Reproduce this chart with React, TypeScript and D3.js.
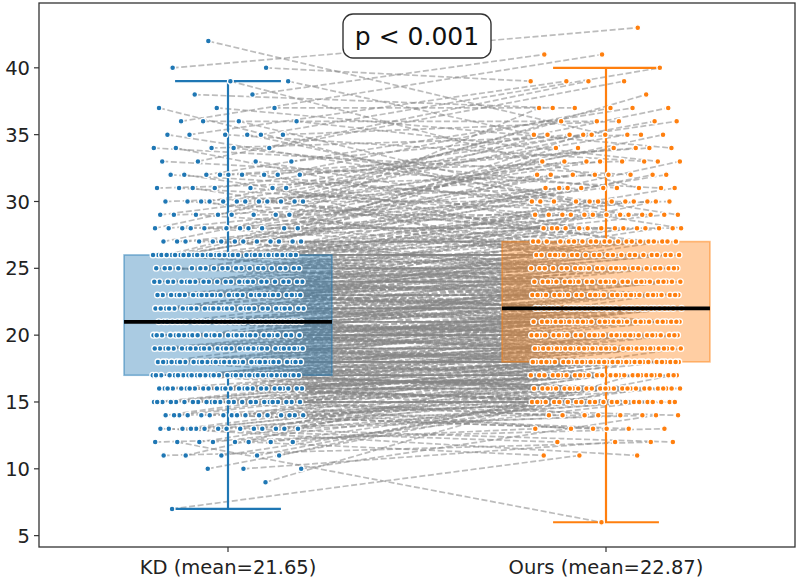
import React from 'react';
import * as d3 from 'd3';

// Score frequencies per method (integer scores)
const kdScores = [7, 9, 10, 11, 12, 13, 14, 15, 16, 17, 18, 19, 20, 21, 22, 23, 24, 25, 26, 27, 28, 29, 30, 31, 32, 33, 34, 35, 36, 37, 38, 39, 40, 42];
const kdCounts = [1, 1, 3, 5, 8, 14, 16, 24, 26, 32, 30, 30, 28, 30, 28, 28, 24, 20, 32, 13, 11, 8, 12, 7, 9, 4, 5, 6, 4, 3, 2, 2, 2, 1];

const oursScores = [6, 11, 12, 13, 14, 15, 16, 17, 18, 19, 20, 21, 22, 23, 24, 25, 26, 27, 28, 29, 30, 31, 32, 33, 34, 35, 36, 37, 38, 39, 40, 41, 43];
const oursCounts = [1, 3, 4, 6, 8, 22, 26, 27, 32, 32, 28, 30, 31, 28, 26, 24, 22, 20, 14, 13, 12, 9, 8, 8, 6, 9, 5, 6, 1, 4, 1, 2, 1];

// Box-plot summary per method
const methods = ['KD', 'Ours'];
const methodLabels = ['KD (mean=21.65)', 'Ours (mean=22.87)'];
const boxQ1 = [17, 18];
const boxMedian = [21, 22];
const boxQ3 = [26, 27];
const whiskerLow = [7, 6];
const whiskerHigh = [39, 40];
const colors = ['#1f77b4', '#ff7f0e'];

const yTicks = [5, 10, 15, 20, 25, 30, 35, 40];
const pLabel = 'p < 0.001';

const W = 797;
const H = 580;
const left = 39;
const right = 795;
const top = 3;
const bottom = 547;

const frac = (v: number) => v - Math.floor(v);

function expand(scores: number[], counts: number[]) {
  const out: number[] = [];
  scores.forEach((s, i) => {
    for (let k = 0; k < counts[i]; k++) out.push(s);
  });
  return out;
}

export default function App() {
  const x = d3.scaleLinear().domain([-0.5, 1.5]).range([left, right]);
  const y = d3.scaleLinear().domain([4.15, 44.85]).range([bottom, top]);

  const kd = expand(kdScores, kdCounts);
  const ours = expand(oursScores, oursCounts);
  const n = Math.min(kd.length, ours.length);

  // pair subjects by rank with local mixing so that connections cross
  const order = d3.range(n).sort((a, b) => {
    const ka = a + (frac(a * 0.7548776662 + 0.2) - 0.5) * 170;
    const kb = b + (frac(b * 0.7548776662 + 0.2) - 0.5) * 170;
    return ka - kb;
  });
  const pairs = order.map((kdIdx, j) => ({
    a: kd[kdIdx],
    b: ours[j],
    xa: (frac(kdIdx * 0.6180339887 + 0.13) - 0.5) * 0.4,
    xb: (frac(j * 0.6180339887 + 0.47) - 0.5) * 0.4,
  }));

  const boxW = 0.55;
  const capW = 0.28;

  return (
    <svg width={W} height={H} style={{ position: 'absolute', left: 0, top: 0, background: '#fff' }}
      fontFamily="DejaVu Sans, sans-serif">
      {/* paired connections */}
      <g stroke="#858585" strokeOpacity={0.55} strokeWidth={1.7} strokeDasharray="6,2.6" fill="none">
        {pairs.map((p, i) => (
          <line key={i} x1={x(0 + p.xa)} y1={y(p.a)} x2={x(1 + p.xb)} y2={y(p.b)} />
        ))}
      </g>

      {/* boxes */}
      {methods.map((m, i) => (
        <rect key={m} x={x(i - boxW / 2)} y={y(boxQ3[i])} width={x(boxW) - x(0)}
          height={y(boxQ1[i]) - y(boxQ3[i])} fill={colors[i]} fillOpacity={0.38}
          stroke={colors[i]} strokeOpacity={0.5} strokeWidth={1.6} />
      ))}

      {/* whiskers and caps */}
      {methods.map((m, i) => (
        <g key={m} stroke={colors[i]} strokeWidth={2.2}>
          <line x1={x(i)} x2={x(i)} y1={y(boxQ3[i])} y2={y(whiskerHigh[i])} />
          <line x1={x(i)} x2={x(i)} y1={y(boxQ1[i])} y2={y(whiskerLow[i])} />
          <line x1={x(i - capW / 2)} x2={x(i + capW / 2)} y1={y(whiskerHigh[i])} y2={y(whiskerHigh[i])} />
          <line x1={x(i - capW / 2)} x2={x(i + capW / 2)} y1={y(whiskerLow[i])} y2={y(whiskerLow[i])} />
        </g>
      ))}

      {/* individual scores */}
      <g stroke="#fff" strokeWidth={1.3}>
        {pairs.map((p, i) => (
          <circle key={'a' + i} cx={x(0 + p.xa)} cy={y(p.a)} r={2.9} fill={colors[0]} />
        ))}
        {pairs.map((p, i) => (
          <circle key={'b' + i} cx={x(1 + p.xb)} cy={y(p.b)} r={2.9} fill={colors[1]} />
        ))}
      </g>

      {/* medians */}
      {methods.map((m, i) => (
        <line key={m} x1={x(i - boxW / 2)} x2={x(i + boxW / 2)} y1={y(boxMedian[i])} y2={y(boxMedian[i])}
          stroke="#000" strokeWidth={3.8} />
      ))}

      {/* axes frame */}
      <rect x={left} y={top} width={right - left} height={bottom - top} fill="none" stroke="#333" strokeWidth={1.3} />

      {/* y ticks */}
      {yTicks.map(t => (
        <g key={t}>
          <line x1={left - 5} x2={left} y1={y(t)} y2={y(t)} stroke="#333" strokeWidth={1.2} />
          <text x={left - 9} y={y(t)} dy="0.36em" textAnchor="end" fontSize={19.5} fill="#222">{t}</text>
        </g>
      ))}

      {/* x ticks */}
      {methods.map((m, i) => (
        <g key={m}>
          <line x1={x(i)} x2={x(i)} y1={bottom} y2={bottom + 5} stroke="#333" strokeWidth={1.2} />
          <text x={x(i)} y={bottom + 27} textAnchor="middle" fontSize={19.5} fill="#222">{methodLabels[i]}</text>
        </g>
      ))}

      {/* significance annotation */}
      <rect x={343} y={14} width={148} height={44} rx={10} fill="#fff" stroke="#333" strokeWidth={1.4} />
      <text x={417} y={36} dy="0.36em" textAnchor="middle" fontSize={25} fill="#111">{pLabel}</text>
    </svg>
  );
}
